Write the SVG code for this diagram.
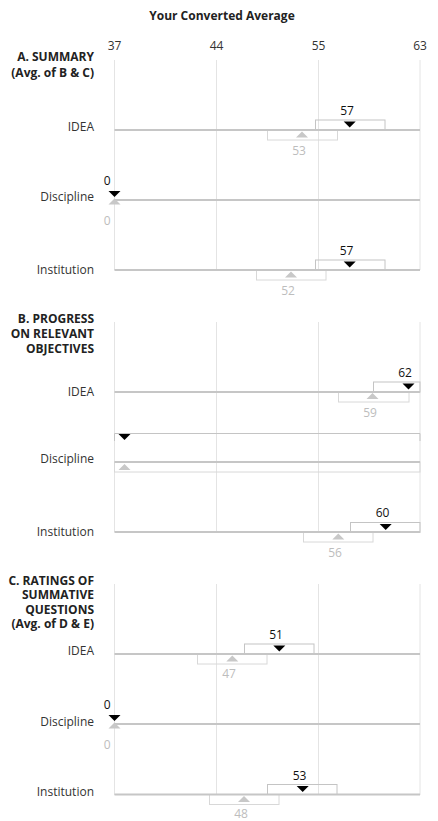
<svg xmlns="http://www.w3.org/2000/svg" width="438" height="821" viewBox="0 0 438 821">
<style>
text{font-family:"Open Sans","Liberation Sans",sans-serif;font-size:12px}
.title{font-weight:bold;fill:#222;text-anchor:middle}
.hdr{font-weight:bold;fill:#222;text-anchor:end}
.lbl{fill:#333;text-anchor:end}
.tick{fill:#333;text-anchor:middle}
.vb{fill:#111;text-anchor:middle}
.vg{fill:#bdbdbd;text-anchor:middle}
.grid{stroke:#e4e4e4;stroke-width:1}
.row{stroke:#c6c6c6;stroke-width:2}
.boxb{fill:none;stroke:#c4c4c4;stroke-width:1}
.boxg{fill:none;stroke:#d8d8d8;stroke-width:1}
.tb{fill:#000}
.tg{fill:#c8c8c8}
</style>
<defs>
<polygon id="down" points="-6,0 6,0 0,6"/>
<polygon id="up" points="-6,6 6,6 0,0"/>
</defs>
<rect width="438" height="821" fill="#fff"/>
<text class="title" x="222" y="20">Your Converted Average</text>
<g id="axis">
<text class="tick" x="114.5" y="50">37</text>
<text class="tick" x="216.5" y="50">44</text>
<text class="tick" x="318.5" y="50">55</text>
<text class="tick" x="420" y="50">63</text>
</g>
<g id="connectors">
<line class="grid" x1="114.5" y1="60" x2="114.5" y2="270"/>
<line class="grid" x1="216.5" y1="60" x2="216.5" y2="270"/>
<line class="grid" x1="318.5" y1="60" x2="318.5" y2="270"/>
<line class="grid" x1="420" y1="60" x2="420" y2="270"/>
<line class="grid" x1="114.5" y1="322" x2="114.5" y2="532"/>
<line class="grid" x1="216.5" y1="322" x2="216.5" y2="532"/>
<line class="grid" x1="318.5" y1="322" x2="318.5" y2="532"/>
<line class="grid" x1="420" y1="322" x2="420" y2="532"/>
<line class="grid" x1="114.5" y1="584" x2="114.5" y2="795"/>
<line class="grid" x1="216.5" y1="584" x2="216.5" y2="795"/>
<line class="grid" x1="318.5" y1="584" x2="318.5" y2="795"/>
<line class="grid" x1="420" y1="584" x2="420" y2="795"/>
</g>
<!-- Section A -->
<g id="secA-header">
<text class="hdr" x="94" y="61">A. SUMMARY</text>
<text class="hdr" x="94" y="76.5">(Avg. of B &amp; C)</text>
</g>
<g id="A-idea">
<text class="lbl" x="94" y="131">IDEA</text>
<rect class="boxb" x="315.5" y="120" width="69.5" height="10"/>
<rect class="boxg" x="267.5" y="130" width="70" height="10"/>
<line class="row" x1="114.5" y1="130" x2="420" y2="130"/>
<use href="#down" class="tb" x="349.7" y="121.5"/>
<use href="#up" class="tg" x="302" y="131.5"/>
<text class="vb" x="347" y="114.5">57</text>
<text class="vg" x="299" y="154.5">53</text>
</g>
<g id="A-discipline">
<text class="lbl" x="94" y="201">Discipline</text>
<line class="row" x1="114.5" y1="200" x2="420" y2="200"/>
<use href="#up" class="tg" x="114.5" y="198.5"/>
<use href="#down" class="tb" x="114.5" y="191"/>
<text class="vb" x="107.3" y="185">0</text>
<text class="vg" x="107.3" y="225">0</text>
</g>
<g id="A-institution">
<text class="lbl" x="94" y="274">Institution</text>
<rect class="boxb" x="315.5" y="260" width="69.5" height="10"/>
<rect class="boxg" x="256.5" y="270" width="69.5" height="10"/>
<line class="row" x1="114.5" y1="270" x2="420" y2="270"/>
<use href="#down" class="tb" x="349.7" y="261.5"/>
<use href="#up" class="tg" x="291" y="271.5"/>
<text class="vb" x="346.5" y="254.5">57</text>
<text class="vg" x="288" y="295">52</text>
</g>
<!-- Section B -->
<g id="secB-header">
<text class="hdr" x="94" y="323.3">B. PROGRESS</text>
<text class="hdr" x="94" y="338">ON RELEVANT</text>
<text class="hdr" x="94" y="352.7">OBJECTIVES</text>
</g>
<g id="B-idea">
<text class="lbl" x="94" y="396">IDEA</text>
<rect class="boxb" x="373.5" y="382" width="46.5" height="10"/>
<rect class="boxg" x="338.5" y="392" width="70.5" height="10"/>
<line class="row" x1="114.5" y1="392" x2="420" y2="392"/>
<use href="#down" class="tb" x="408.5" y="383.5"/>
<use href="#up" class="tg" x="372.5" y="393"/>
<text class="vb" x="405" y="376.5">62</text>
<text class="vg" x="370" y="416.5">59</text>
</g>
<g id="B-discipline">
<text class="lbl" x="94" y="463">Discipline</text>
<path class="boxb" d="M114.5,441 V433.5 H420 V441"/>
<rect class="boxg" x="114.5" y="462" width="305.5" height="10"/>
<line class="row" x1="114.5" y1="462" x2="420" y2="462"/>
<use href="#down" class="tb" x="124.5" y="434"/>
<use href="#up" class="tg" x="124.5" y="464"/>
</g>
<g id="B-institution">
<text class="lbl" x="94" y="536">Institution</text>
<rect class="boxb" x="350.5" y="522.5" width="69.5" height="10"/>
<rect class="boxg" x="303.5" y="532" width="69.5" height="10"/>
<line class="row" x1="114.5" y1="532" x2="420" y2="532"/>
<use href="#down" class="tb" x="385.7" y="524"/>
<use href="#up" class="tg" x="338.3" y="533.5"/>
<text class="vb" x="382.5" y="516.5">60</text>
<text class="vg" x="335" y="556.5">56</text>
</g>
<!-- Section C -->
<g id="secC-header">
<text class="hdr" x="94" y="585">C. RATINGS OF</text>
<text class="hdr" x="94" y="599.3">SUMMATIVE</text>
<text class="hdr" x="94" y="613.7">QUESTIONS</text>
<text class="hdr" x="94" y="628">(Avg. of D &amp; E)</text>
</g>
<g id="C-idea">
<text class="lbl" x="94" y="655">IDEA</text>
<rect class="boxb" x="244.5" y="644" width="69.5" height="10"/>
<rect class="boxg" x="197.5" y="654" width="69.5" height="10"/>
<line class="row" x1="114.5" y1="654" x2="420" y2="654"/>
<use href="#down" class="tb" x="279.3" y="645.5"/>
<use href="#up" class="tg" x="232.3" y="655.5"/>
<text class="vb" x="276" y="638.5">51</text>
<text class="vg" x="229" y="678">47</text>
</g>
<g id="C-discipline">
<text class="lbl" x="94" y="726">Discipline</text>
<line class="row" x1="114.5" y1="724" x2="420" y2="724"/>
<use href="#up" class="tg" x="114.5" y="722.5"/>
<use href="#down" class="tb" x="114.5" y="715"/>
<text class="vb" x="107.3" y="709">0</text>
<text class="vg" x="107.3" y="748.5">0</text>
</g>
<g id="C-institution">
<text class="lbl" x="94" y="796">Institution</text>
<rect class="boxb" x="267.5" y="784.5" width="69.5" height="10"/>
<rect class="boxg" x="209.5" y="794.5" width="69.5" height="10"/>
<line class="row" x1="114.5" y1="794.5" x2="420" y2="794.5"/>
<use href="#down" class="tb" x="302.7" y="786"/>
<use href="#up" class="tg" x="244" y="796"/>
<text class="vb" x="299.5" y="779.5">53</text>
<text class="vg" x="241" y="818">48</text>
</g>
</svg>
